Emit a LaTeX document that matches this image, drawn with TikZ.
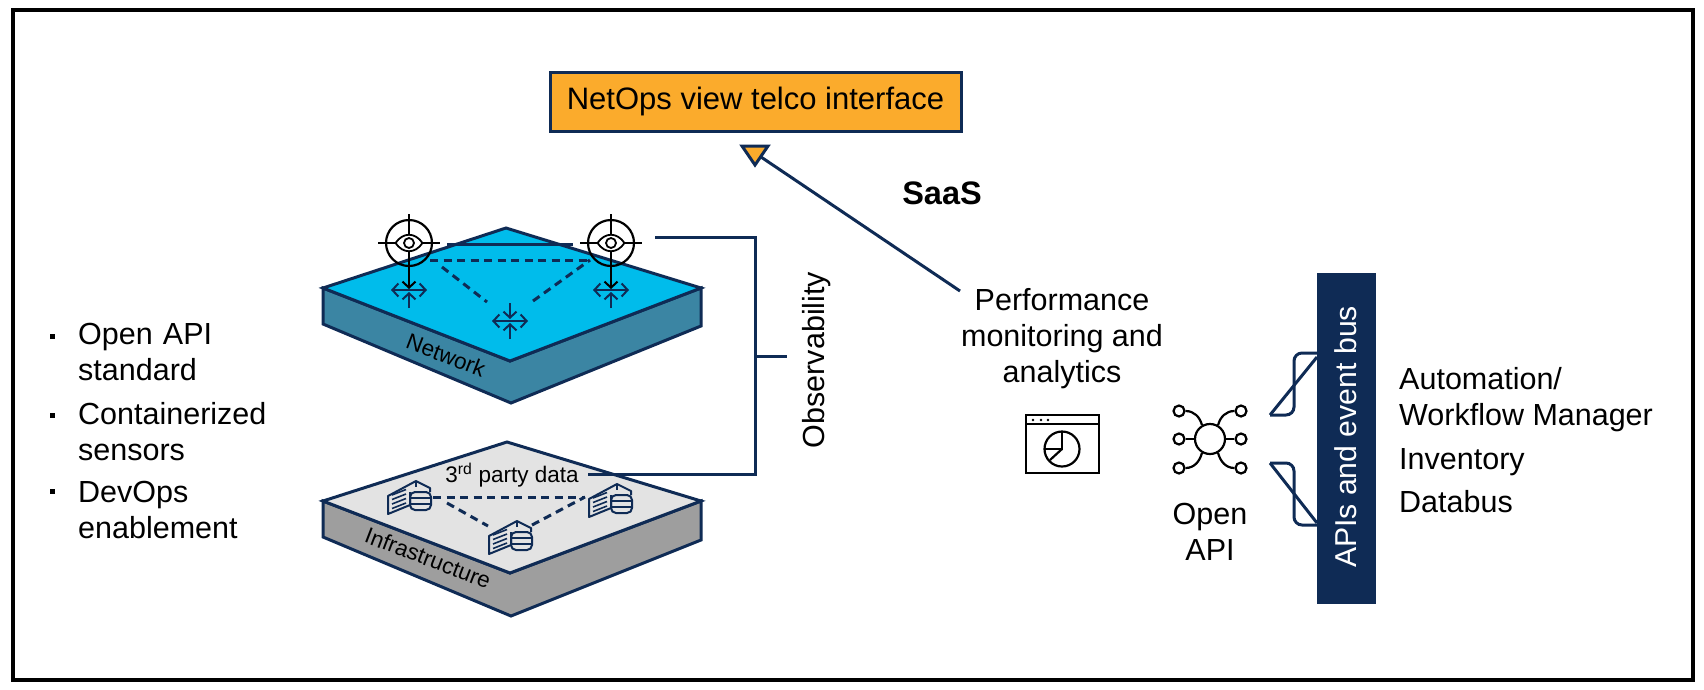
\documentclass[tikz,border=0pt]{standalone}
\usepackage{fontspec}
\setmainfont{Liberation Sans}
\usetikzlibrary{arrows.meta}
\definecolor{navy}{HTML}{0F2B55}
\definecolor{orangeb}{HTML}{FBAB2C}
\definecolor{skyb}{HTML}{00BCEB}
\definecolor{tealb}{HTML}{3B85A3}
\definecolor{lgrey}{HTML}{E3E3E3}
\definecolor{mgrey}{HTML}{9E9E9E}
\tikzset{
  line/.style={draw=navy,line width=3pt},
  plate/.style={draw=navy,line width=3pt,line join=miter},
  dashline/.style={draw=navy,line width=3pt,dash pattern=on 8pt off 5.5pt},
  iconk/.style={draw=black,line width=2.2pt},
  iconn/.style={draw=navy,line width=2pt},
  barb/.style={-{Straight Barb[length=6pt,width=13pt,line width=2pt]}},
  txt/.style={font=\fontsize{30.5}{36}\selectfont,text=black,inner sep=0pt,align=left},
  ctxt/.style={txt,align=center},
  small/.style={font=\fontsize{22.5}{27}\selectfont,text=black,inner sep=0pt},
  bulletdot/.style={fill=black,minimum size=5pt,inner sep=0pt},
  sat/.style={circle,draw=black,line width=2.2pt,minimum size=11pt,inner sep=0pt},
  eyepic/.pic={
    \draw[iconk] (0,0) circle[radius=23];
    \draw[iconk] (-31,0)--(-13,0) (13,0)--(31,0) (0,-29)--(0,-8);
    \draw[iconk,line width=1.8pt] (-13.5,0) .. controls (-6,-11) and (6,-11) .. (13.5,0) .. controls (6,11) and (-6,11) .. (-13.5,0);
    \draw[iconk,line width=1.8pt,fill=white] (0,0) circle[radius=5];
    \draw[iconk] (0,8)--(0,23);
    \draw[iconn,draw=black,barb] (0,23)--(0,46);
  },
  sensorpic/.pic={
    \draw[iconn,{Straight Barb[length=6pt,width=13pt,line width=2pt]}-{Straight Barb[length=6pt,width=13pt,line width=2pt]}] (-18,0)--(18,0);
    \draw[iconn,barb] (0,18)--(0,2);
  },
  datapic/.pic={
    \draw[iconn,line join=round] (-6,11)--(-6,24)--(-28,33)--(-28,15)--(0,0)--(14,7)--(14,11);
    \draw[iconn] (0,0)--(0,6);
    \foreach \yy in {10,14.5,19,23.5}{\draw[iconn,line width=1.6pt] (-24,\yy+4)--(-10,\yy-1.5);}
    \draw[iconn,rounded corners=5pt] (-6,11) rectangle (15,29);
    \draw[iconn] (-6,17)--(15,17) (-6,23)--(15,23);
  },
}
\begin{document}
\begin{tikzpicture}[x=1pt,y=-1pt]
\useasboundingbox (0,0) rectangle (1704,689);
\draw[black,line width=4pt] (13,10) rectangle (1693,680);

% header box
\node[draw=navy,line width=3pt,fill=orangeb,minimum width=411pt,minimum height=59pt,inner sep=0pt,font=\fontsize{31}{36}\selectfont,text=black] (netops) at (755.5,101.5) {NetOps view telco interface};
\coordinate (tip) at (755,165);
\coordinate (tipL) at (742,146);
\coordinate (tipR) at (768,146);
\coordinate (tipFoot) at (761,157);
\coordinate (perfEnd) at (960,291);
\draw[line,fill=orangeb,line join=miter] (tipL)--(tipR)--(tip)--cycle;
\draw[line] (tipFoot)--(perfEnd);
\node[font=\bfseries\fontsize{32.5}{36}\selectfont,text=black,inner sep=0pt] (saas) at (942,193) {SaaS};

% network plate
\coordinate (nL) at (323,288); \coordinate (nT) at (506,228); \coordinate (nR) at (701,288); \coordinate (nB) at (510,361);
\coordinate (nLd) at (323,324); \coordinate (nRd) at (701,326); \coordinate (nBd) at (511,403);
\draw[plate,fill=tealb] (nL)--(nB)--(nR)--(nRd)--(nBd)--(nLd)--cycle;
\draw[plate,fill=skyb] (nL)--(nT)--(nR)--(nB)--cycle;
\node[small,rotate=-21] (netlabel) at (446,355) {Network};

% infrastructure plate
\coordinate (iL) at (323,501); \coordinate (iT) at (507,442); \coordinate (iR) at (701,501); \coordinate (iB) at (510,573);
\coordinate (iLd) at (323,537); \coordinate (iRd) at (701,540); \coordinate (iBd) at (511,616);
\draw[plate,fill=mgrey] (iL)--(iB)--(iR)--(iRd)--(iBd)--(iLd)--cycle;
\draw[plate,fill=lgrey] (iL)--(iT)--(iR)--(iB)--cycle;
\node[small,rotate=-21] (inflabel) at (428,558) {Infrastructure};

% sensors
\coordinate (eyeA) at (409,243); \coordinate (eyeB) at (611,243);
\coordinate (s1) at (409,290); \coordinate (s2) at (611,290); \coordinate (s3) at (510,321);
\coordinate (dA1) at (430,260); \coordinate (dB1) at (590,260);
\coordinate (dA2) at (442,267); \coordinate (dC2) at (487,302); \coordinate (dC3) at (533,301);
\draw[dashline] (dA1)--(dB1);
\draw[dashline] (dA2)--(dC2);
\draw[dashline] (dC3)--(dB1);
\pic at (s1) {sensorpic}; \pic at (s2) {sensorpic}; \pic at (s3) {sensorpic};
\draw[iconn,barb] ([yshift=18pt]s3)--([yshift=2pt]s3);
\pic at (eyeA) {eyepic}; \pic at (eyeB) {eyepic};
\coordinate (lnA) at (447,244); \coordinate (lnB) at (573,244);
\draw[line] (lnA)--(lnB);

% data sources
\coordinate (db1) at (416,481); \coordinate (db2) at (617,484); \coordinate (db3) at (517,521);
\coordinate (e1) at (433,497); \coordinate (e2) at (585,497); \coordinate (e3) at (447,503); \coordinate (e4) at (488,526); \coordinate (e5) at (532,525);
\draw[dashline] (e1)--(e2);
\draw[dashline] (e3)--(e4);
\draw[dashline] (e5)--(e2);
\pic at (db1) {datapic}; \pic at (db2) {datapic}; \pic at (db3) {datapic};
\node[small] (third) at (512,475) {3\textsuperscript{rd} party data};

% observability bracket
\coordinate (obsTop) at (655,237); \coordinate (obsCor1) at (755,237); \coordinate (obsCor2) at (755,474); \coordinate (obsEnd) at (588,474);
\coordinate (obsMid) at (755,356); \coordinate (obsStub) at (787,356);
\draw[line,line join=miter] (obsTop)--(obsCor1)--(obsCor2)--(obsEnd);
\draw[line] (obsMid)--(obsStub);
\node[txt,rotate=90] (obs) at (817,360) {Observability};

% left list
\node[bulletdot] (b1) at (52,336) {};
\node[bulletdot] (b2) at (52,415) {};
\node[bulletdot] (b3) at (52,491) {};
\node[txt,anchor=north west,text width=220pt] (l1) at (78,323) {Open API\\standard};
\node[txt,anchor=north west,text width=220pt] (l2) at (78,402) {Containerized\\sensors};
\node[txt,anchor=north west,text width=220pt] (l3) at (78,481) {DevOps\\enablement};

% performance
\node[ctxt] (perf) at (1062,339) {Performance\\monitoring and\\analytics};
\draw[iconk] (1026,415) rectangle (1099,473);
\draw[iconk] (1026,424)--(1099,424);
\foreach \xx in {1033,1041,1048}{\fill[black] (\xx,420) circle[radius=1.4];}
\coordinate (pie) at (1062,449);
\draw[iconk] (pie) circle[radius=17.5];
\draw[iconk] (1062,431.5)--(pie)--(1044.5,449);
\draw[iconk] (pie)--(1050,460);

% open API icon
\node[circle,draw=black,line width=2.2pt,minimum size=30pt,inner sep=0pt] (hub) at (1210,439) {};
\node[sat] (a1) at (1179,411) {}; \node[sat] (a2) at (1241,411) {};
\node[sat] (a3) at (1179,439) {}; \node[sat] (a4) at (1241,439) {};
\node[sat] (a5) at (1179,468) {}; \node[sat] (a6) at (1241,468) {};
\draw[iconk] (a3)--(hub); \draw[iconk] (a4)--(hub);
\draw[iconk] (a1.east) to[out=0,in=105] (hub.120);
\draw[iconk] (a2.west) to[out=180,in=75] (hub.60);
\draw[iconk] (a5.east) to[out=0,in=-105] (hub.-120);
\draw[iconk] (a6.west) to[out=180,in=-75] (hub.-60);
\node[ctxt] (openapi) at (1210,532) {Open\\API};

% bus
\node[fill=navy,minimum width=59pt,minimum height=331pt,inner sep=0pt] (bus) at (1346.5,438.5) {};
\node[font=\fontsize{30.2}{36}\selectfont,text=white,rotate=90,inner sep=0pt] (buslabel) at (1346,437) {APIs and event bus};
\coordinate (c1) at (1317,353); \coordinate (c2) at (1294,353); \coordinate (c3) at (1294,415); \coordinate (c4) at (1270,415); \coordinate (c5) at (1317,357);
\coordinate (d1) at (1270,463); \coordinate (d2) at (1294,463); \coordinate (d3) at (1294,525); \coordinate (d4) at (1317,525); \coordinate (d5) at (1317,523);
\draw[line,rounded corners=8pt] (c1)--(c2)--(c3)--(c4);
\draw[line,line join=miter] (c4)--(c5);
\draw[line,rounded corners=8pt] (d1)--(d2)--(d3)--(d4);
\draw[line] (d1)--(d5);

% right list
\node[txt,anchor=north west] (r1) at (1399,367) {Automation/\\Workflow Manager};
\node[txt,anchor=west] (r2) at (1399,462) {Inventory};
\node[txt,anchor=west] (r3) at (1399,502) {Databus};
\end{tikzpicture}
\end{document}
